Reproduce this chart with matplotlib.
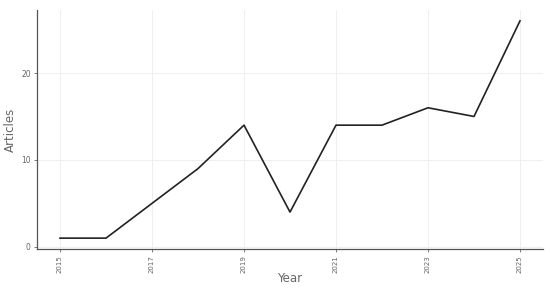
import matplotlib
matplotlib.use("Agg")
import matplotlib.pyplot as plt

years = [2015, 2016, 2017, 2018, 2019, 2020, 2021, 2022, 2023, 2024, 2025]
articles = [1, 1, 5, 9, 14, 4, 14, 14, 16, 15, 26]
xticks = [2015, 2017, 2019, 2021, 2023, 2025]
yticks = [0, 10, 20]

fig = plt.figure(figsize=(5.5, 2.89), dpi=100)
ax = fig.add_axes([37/550, 1 - 249/289, (543 - 37)/550, (249 - 10)/289])
ax.plot(years, articles, color="#222222", lw=1.2, zorder=3)
ax.set_xlim(2014.5, 2025.5)
ax.set_ylim(-0.25, 27.25)
ax.set_xticks(xticks)
ax.set_xticklabels([str(t) for t in xticks], rotation=90, fontsize=5, color="#666666")
ax.set_yticks(yticks)
ax.set_yticklabels([str(t) for t in yticks], fontsize=5.5, color="#666666")
ax.grid(True, color="#ededed", lw=0.6)
ax.set_axisbelow(True)
for s in ["top", "right"]:
    ax.spines[s].set_visible(False)
for s in ["left", "bottom"]:
    ax.spines[s].set_color("#555555")
    ax.spines[s].set_linewidth(0.9)
ax.tick_params(length=2.5, width=0.6, colors="#666666", pad=2)
fig.text(290/550, 1 - 278/289, "Year", fontsize=8.5, color="#666666", ha="center", va="center")
fig.text(10/550, 1 - 130/289, "Articles", fontsize=8.5, color="#666666", ha="center", va="center", rotation=90)
fig.savefig("out.png", dpi=100)
